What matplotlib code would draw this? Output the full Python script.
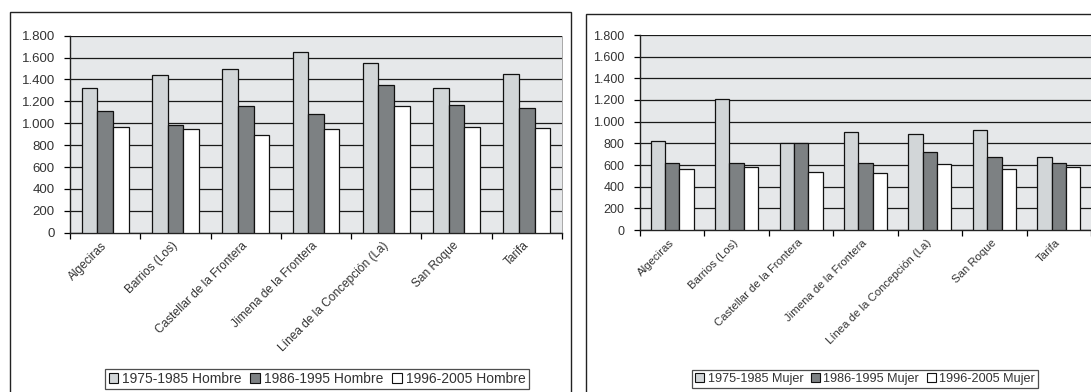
import numpy as np
import matplotlib.pyplot as plt
from matplotlib.patches import Rectangle, Patch
from matplotlib.ticker import FuncFormatter
from matplotlib.transforms import ScaledTranslation

plt.rcParams['font.family'] = ['Liberation Sans', 'DejaVu Sans']

# municipios
municipios = ["Algeciras", "Barrios (Los)", "Castellar de la Frontera",
              "Jimena de la Frontera", "Línea de la Concepción (La)",
              "San Roque", "Tarifa"]

# hombres
hombre_1975_1985 = [1325, 1438, 1498, 1654, 1553, 1322, 1447]
hombre_1986_1995 = [1112, 987, 1158, 1087, 1350, 1167, 1139]
hombre_1996_2005 = [963, 947, 895, 947, 1158, 968, 954]

# mujeres
mujer_1975_1985 = [822, 1212, 806, 908, 885, 920, 677]
mujer_1986_1995 = [615, 615, 806, 617, 718, 672, 622]
mujer_1996_2005 = [566, 585, 538, 525, 613, 564, 580]

periodos = ["1975-1985", "1986-1995", "1996-2005"]
colores = ["#d2d6d8", "#7d8183", "#ffffff"]

W, H = 1091, 392
fig = plt.figure(figsize=(W / 100, H / 100), dpi=100)


def px_box(x0, y0, x1, y1):
    # pixel box (top-left origin) -> figure fraction rect
    return [x0 / W, 1 - y1 / H, (x1 - x0) / W, (y1 - y0) / H]


# chart frames
for x0, y0, x1, y1 in [(10, 12, 571, 400), (586, 14, 1100, 400)]:
    l, b, w, h = px_box(x0, y0, x1, y1)
    fig.add_artist(Rectangle((l, b), w, h, transform=fig.transFigure,
                             fill=False, edgecolor="#222222", linewidth=1.0))


def bar_panel(rect, series, sexo, leg_center, fs, ytick_fs, xlab_fs):
    ax = fig.add_axes(rect)
    ax.set_facecolor("#e6e8ea")
    x = np.arange(len(municipios))
    w = 0.222
    for k, vals in enumerate(series):
        ax.bar(x + (k - 1) * w, vals, width=w, color=colores[k],
               edgecolor="#111111", linewidth=0.9, zorder=3,
               label=f"{periodos[k]} {sexo}")
    ax.set_xlim(-0.5, len(municipios) - 0.5)
    ax.set_ylim(0, 1800)
    ax.set_yticks(np.arange(0, 1801, 200))
    ax.yaxis.set_major_formatter(
        FuncFormatter(lambda v, p: f"{int(v):,}".replace(",", ".")))
    ax.grid(axis="y", color="#1a1a1a", linewidth=0.9, zorder=1)
    ax.set_axisbelow(True)

    ax.set_xticks(x)
    ax.set_xticklabels(municipios, rotation=45, ha="right", va="center",
                       rotation_mode="anchor", fontsize=xlab_fs, color="#333333")
    shift = ScaledTranslation(-7 / 72, 0, fig.dpi_scale_trans)
    for lab in ax.get_xticklabels():
        lab.set_transform(lab.get_transform() + shift)
    ax.set_xticks(np.arange(-0.5, len(municipios)), minor=True)
    ax.tick_params(axis="x", which="major", length=0, pad=8)
    ax.tick_params(axis="x", which="minor", length=4, width=0.9, direction="out")
    ax.tick_params(axis="y", length=4, width=0.9, direction="out",
                   labelsize=ytick_fs, labelcolor="#333333", pad=7)

    for s in ["left", "bottom"]:
        ax.spines[s].set_color("#222222")
        ax.spines[s].set_linewidth(1.0)
    ax.spines["top"].set_visible(False)
    ax.spines["right"].set_color("#9a9a9a")
    ax.spines["right"].set_linewidth(0.6)

    handles = [Patch(facecolor=colores[k], edgecolor="#111111", linewidth=0.8,
                     label=f"{periodos[k]} {sexo}") for k in range(3)]
    leg = fig.legend(handles=handles, loc="center",
                     bbox_to_anchor=(leg_center[0] / W, 1 - leg_center[1] / H),
                     ncol=3, fontsize=fs, frameon=True, fancybox=False,
                     handlelength=0.7, handleheight=0.7, handletextpad=0.3,
                     columnspacing=0.6, borderpad=0.25, borderaxespad=0)
    leg.get_frame().set_edgecolor("#222222")
    leg.get_frame().set_linewidth(0.9)
    for t in leg.get_texts():
        t.set_color("#333333")
    return ax


bar_panel(px_box(70, 35.7, 562, 232.7),
          [hombre_1975_1985, hombre_1986_1995, hombre_1996_2005],
          "Hombre", (317, 379), 10.0, 9.5, 8.6)
bar_panel(px_box(640, 35, 1091, 230),
          [mujer_1975_1985, mujer_1986_1995, mujer_1996_2005],
          "Mujer", (865, 379), 9.1, 9.0, 8.2)

fig.savefig("out.png", dpi=100)
